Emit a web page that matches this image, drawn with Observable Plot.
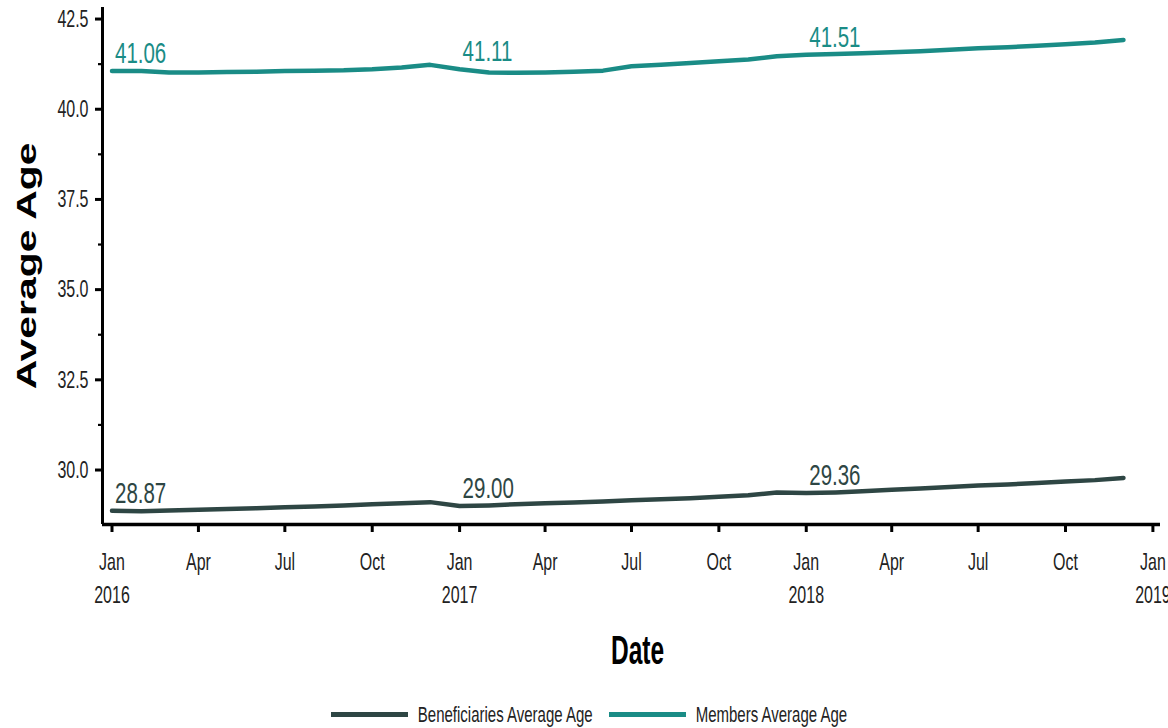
<!DOCTYPE html>
<html>
<head>
<meta charset="utf-8">
<script src="https://cdn.jsdelivr.net/npm/d3@7"></script>
<script src="https://cdn.jsdelivr.net/npm/@observablehq/plot@0.6"></script>
<style>
  html, body { margin: 0; padding: 0; background: #fff; }
  #chart { width: 1168px; height: 680px; }
  #legend { display: flex; justify-content: center; align-items: center; height: 68px; margin-left: 10px;
    font-family: 'Liberation Sans', Arial, sans-serif; font-size: 15px; color: #222; }
  .item { display: flex; align-items: center; margin: 0 8px; }
  .sw { width: 77px; height: 5px; margin-right: 10px; }
  .lab { display: inline-block; transform: scaleY(1.45); }
</style>
</head>
<body>
<div id="chart"></div>
<div id="legend"></div>
<script>
// ---- data ----
const monthStart = "2016-01-01";
const nMonths = 36;
const beneficiaries = [
  28.87, 28.86, 28.88, 28.90, 28.92, 28.94, 28.97, 28.99, 29.02, 29.05, 29.08, 29.11,
  29.00, 29.02, 29.05, 29.08, 29.10, 29.13, 29.16, 29.19, 29.22, 29.26, 29.30, 29.38,
  29.36, 29.38, 29.41, 29.45, 29.49, 29.53, 29.57, 29.60, 29.64, 29.68, 29.72, 29.78
];
const members = [
  41.06, 41.06, 41.02, 41.02, 41.03, 41.04, 41.06, 41.07, 41.08, 41.11, 41.16, 41.23,
  41.11, 41.02, 41.01, 41.02, 41.04, 41.07, 41.19, 41.23, 41.28, 41.33, 41.38, 41.47,
  41.51, 41.53, 41.55, 41.58, 41.61, 41.65, 41.69, 41.72, 41.76, 41.80, 41.85, 41.92
];
const seriesNames = ["Beneficiaries Average Age", "Members Average Age"];
const seriesColors = ["#2e4644", "#1a8c86"];
const labelMonths = ["2016-01-01", "2017-01-01", "2018-01-01"];
const yTicks = [30, 32.5, 35, 37.5, 40, 42.5];
const yMinor = [31.25, 33.75, 36.25, 38.75, 41.25];
const xTickStrings = ["2016-01-01","2016-04-01","2016-07-01","2016-10-01","2017-01-01","2017-04-01",
  "2017-07-01","2017-10-01","2018-01-01","2018-04-01","2018-07-01","2018-10-01","2019-01-01"];
const monthNames = ["Jan","Feb","Mar","Apr","May","Jun","Jul","Aug","Sep","Oct","Nov","Dec"];
const yTitle = "Average Age";
const xTitle = "Date";

// ---- build table ----
const dates = d3.utcMonth.range(new Date(monthStart), d3.utcMonth.offset(new Date(monthStart), nMonths));
const rows = [];
dates.forEach((d, i) => {
  rows.push({date: d, value: beneficiaries[i], series: seriesNames[0]});
  rows.push({date: d, value: members[i], series: seriesNames[1]});
});
const labelSet = new Set(labelMonths.map(s => +new Date(s)));
const labelRows = rows.filter(r => labelSet.has(+r.date));

const FONT = "'Liberation Sans', Arial, sans-serif";
const xDomain = [new Date("2015-12-22"), new Date("2019-01-09")];
const yDomain = [28.49, 42.82];
const H = 680;

const plot = Plot.plot({
  width: 1168,
  height: H,
  marginLeft: 102,
  marginRight: 8,
  marginTop: 7,
  marginBottom: H - 524,
  style: {fontFamily: FONT, background: "#fff", overflow: "visible"},
  x: {type: "utc", domain: xDomain},
  y: {domain: yDomain},
  color: {domain: seriesNames, range: seriesColors},
  marks: [
    Plot.axisY({ticks: yTicks, tickFormat: d3.format(".1f"), tickSize: 7, tickPadding: 7,
      strokeWidth: 3, fontSize: 16, fill: "#222", stroke: "#000", label: null}),
    Plot.axisY({ticks: yMinor, tickFormat: () => "", tickSize: 4, strokeWidth: 2.2, stroke: "#000", label: null}),
    Plot.axisX({ticks: xTickStrings.map(s => new Date(s)),
      tickFormat: d => { const m = d.getUTCMonth(); return m === 0 ? `${monthNames[m]}\n${d.getUTCFullYear()}` : monthNames[m]; },
      tickSize: 8, tickPadding: 14, strokeWidth: 3, fontSize: 16, lineHeight: 1.38, fill: "#222", stroke: "#000", label: null}),
    Plot.ruleY([yDomain[0]], {stroke: "#000", strokeWidth: 3.5}),
    Plot.ruleX([xDomain[0]], {stroke: "#000", strokeWidth: 3}),
    Plot.line(rows, {x: "date", y: "value", z: "series", stroke: "series", strokeWidth: 4.5, strokeLinejoin: "round"}),
    Plot.text(labelRows, {x: "date", y: "value", text: d => d3.format(".2f")(d.value), fill: "series",
      textAnchor: "start", lineAnchor: "bottom", dx: 3, dy: -8, fontSize: 20.5, ariaLabel: () => "value-labels"}),
    Plot.text([yTitle], {frameAnchor: "left", textAnchor: "middle", lineAnchor: "middle", rotate: -90, dx: -75,
      fontSize: 28, fontWeight: "bold", fill: "#000", ariaLabel: () => "y-title"}),
    Plot.text([xTitle], {frameAnchor: "bottom", textAnchor: "middle", lineAnchor: "bottom", dx: 6, dy: 139,
      fontSize: 24.5, fontWeight: "bold", fill: "#000", ariaLabel: () => "x-title"})
  ]
});
document.getElementById("chart").appendChild(plot);

// the reference's lettering is tall and narrow: stretch text along its vertical
function stretch(label, sx, sy) {
  d3.select(plot).selectAll(`g[aria-label="${label}"] text, text[aria-label="${label}"]`).each(function() {
    const t = this.getAttribute("transform") || "";
    this.setAttribute("transform", `${t} scale(${sx},${sy})`);
  });
}
stretch("y-axis tick label", 1, 1.5);
stretch("x-axis tick label", 1, 1.5);
stretch("value-labels", 1, 1.45);
stretch("x-title", 1, 1.65);
stretch("y-title", 1.46, 1);

// ---- legend ----
const legend = d3.select("#legend");
seriesNames.forEach((name, i) => {
  const it = legend.append("div").attr("class", "item");
  it.append("div").attr("class", "sw").style("background", seriesColors[i]);
  it.append("span").attr("class", "lab").text(name);
});
</script>
</body>
</html>
